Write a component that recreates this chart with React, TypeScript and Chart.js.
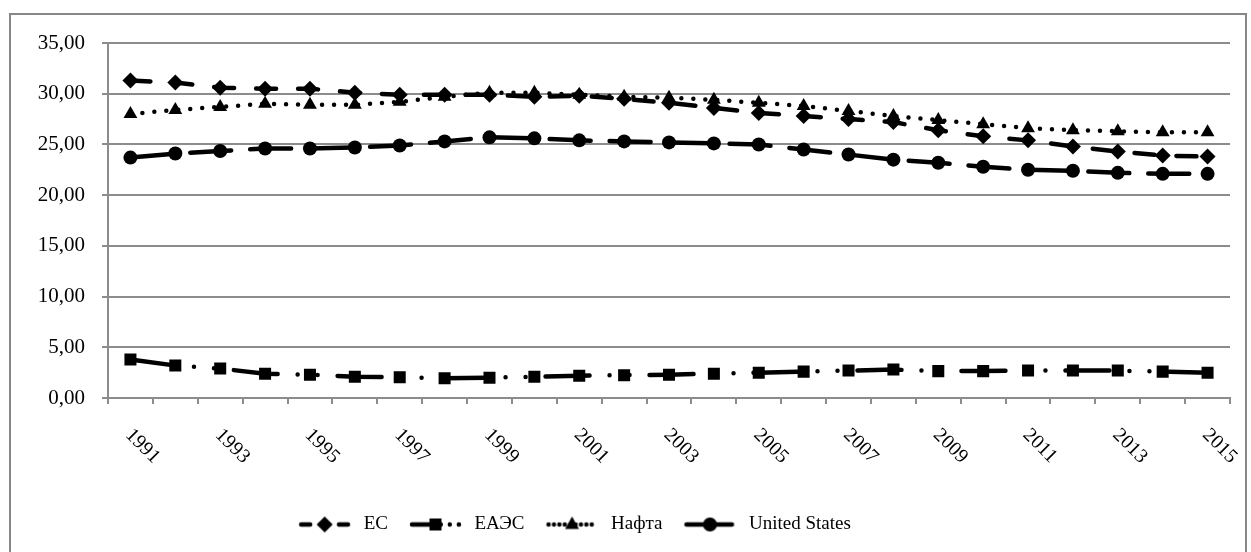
import React, { useEffect, useRef } from "react";
import { Chart, registerables } from "chart.js";

Chart.register(...registerables);

const FONT = '"Liberation Serif", "Times New Roman", serif';

const years = [
  "1991", "1992", "1993", "1994", "1995", "1996", "1997", "1998", "1999", "2000",
  "2001", "2002", "2003", "2004", "2005", "2006", "2007", "2008", "2009", "2010",
  "2011", "2012", "2013", "2014", "2015",
];

const seriesNames = ["ЕС", "ЕАЭС", "Нафта", "United States"];

const ecValues = [
  31.3, 31.1, 30.6, 30.5, 30.5, 30.1, 29.9, 29.9, 29.9, 29.7,
  29.8, 29.5, 29.1, 28.6, 28.1, 27.8, 27.5, 27.2, 26.4, 25.8,
  25.4, 24.8, 24.3, 23.9, 23.8,
];

const eaesValues = [
  3.8, 3.2, 2.9, 2.4, 2.3, 2.1, 2.05, 1.95, 2.0, 2.1,
  2.2, 2.25, 2.3, 2.4, 2.5, 2.6, 2.7, 2.8, 2.65, 2.65,
  2.7, 2.7, 2.7, 2.6, 2.5,
];

const naftaValues = [
  28.0, 28.4, 28.7, 29.0, 28.9, 28.9, 29.2, 29.7, 30.1, 30.1,
  29.9, 29.7, 29.6, 29.4, 29.1, 28.8, 28.3, 27.8, 27.4, 27.0,
  26.6, 26.4, 26.3, 26.2, 26.2,
];

const usValues = [
  23.7, 24.1, 24.35, 24.6, 24.6, 24.7, 24.9, 25.3, 25.7, 25.6,
  25.4, 25.3, 25.2, 25.1, 25.0, 24.5, 24.0, 23.5, 23.2, 22.8,
  22.5, 22.4, 22.2, 22.1, 22.1,
];

const yMin = 0;
const yMax = 35;
const yStep = 5;

const LINE_W = 4.5;
const dashes: number[][] = [
  [20, 22],
  [44, 20, 0, 20, 0, 20],
  [0, 12],
  [41, 19],
];
const pointStyles = ["rectRot", "rect", "triangle", "circle"];
const pointRadii = [8, 8.5, 8, 7];

function drawMarker(ctx: CanvasRenderingContext2D, style: string, x: number, y: number, r: number) {
  ctx.beginPath();
  if (style === "rectRot") {
    ctx.moveTo(x, y - r);
    ctx.lineTo(x + r, y);
    ctx.lineTo(x, y + r);
    ctx.lineTo(x - r, y);
    ctx.closePath();
  } else if (style === "rect") {
    const s = r * Math.SQRT1_2;
    ctx.rect(x - s, y - s, 2 * s, 2 * s);
  } else if (style === "triangle") {
    ctx.moveTo(x, y - r);
    ctx.lineTo(x + r * 0.866, y + r * 0.5 + 0.5);
    ctx.lineTo(x - r * 0.866, y + r * 0.5 + 0.5);
    ctx.closePath();
  } else {
    ctx.arc(x, y, r, 0, Math.PI * 2);
  }
  ctx.fill();
}

function makeLegendIcon(i: number): HTMLCanvasElement {
  const c = document.createElement("canvas");
  c.width = 59;
  c.height = 22;
  const ctx = c.getContext("2d")!;
  ctx.strokeStyle = "#000";
  ctx.fillStyle = "#000";
  ctx.lineWidth = LINE_W;
  ctx.lineCap = "round";
  ctx.setLineDash(dashes[i].map((d) => d * 0.45));
  ctx.beginPath();
  ctx.moveTo(6, 11);
  ctx.lineTo(53, 11);
  ctx.stroke();
  ctx.setLineDash([]);
  drawMarker(ctx, pointStyles[i], 29.5, 11, pointRadii[i]);
  return c;
}

const rotatedXLabels = {
  id: "rotatedXLabels",
  afterDraw(chart: any) {
    const scale = chart.scales.x;
    const ctx = chart.ctx as CanvasRenderingContext2D;
    ctx.save();
    ctx.font = `20px ${FONT}`;
    ctx.fillStyle = "#000";
    ctx.textAlign = "left";
    ctx.textBaseline = "middle";
    years.forEach((lab, i) => {
      if (i % 2 !== 0) return;
      const x = scale.getPixelForValue(i);
      ctx.save();
      ctx.translate(x - 2, scale.top + 34);
      ctx.rotate(Math.PI / 4);
      ctx.fillText(lab, 0, 0);
      ctx.restore();
    });
    ctx.restore();
  },
};

const legendShift = {
  id: "legendShift",
  afterLayout(chart: any) {
    const lg = chart.legend;
    if (lg) {
      lg.left -= 42;
      lg.right -= 42;
    }
  },
};

export default function App() {
  const ref = useRef<HTMLCanvasElement | null>(null);

  useEffect(() => {
    if (!ref.current) return;
    const icons = [0, 1, 2, 3].map(makeLegendIcon);
    const values = [ecValues, eaesValues, naftaValues, usValues];
    const chart = new Chart(ref.current, {
      type: "line",
      data: {
        labels: years,
        datasets: seriesNames.map((name, i) => ({
          label: name,
          data: values[i],
          borderColor: "#000",
          backgroundColor: "#000",
          borderWidth: LINE_W,
          borderDash: dashes[i],
          borderCapStyle: "round" as const,
          borderJoinStyle: "round" as const,
          pointStyle: pointStyles[i] as any,
          pointRadius: pointRadii[i],
          pointBackgroundColor: "#000",
          pointBorderColor: "#000",
          pointBorderWidth: 0,
          tension: 0,
          fill: false,
        })),
      },
      options: {
        animation: false,
        responsive: false,
        devicePixelRatio: 1,
        layout: { padding: { left: 0, right: 21, top: 43, bottom: 8 } },
        plugins: {
          tooltip: { enabled: false },
          legend: {
            position: "bottom",
            labels: {
              usePointStyle: true,
              pointStyleWidth: 59,
              padding: 18,
              color: "#000",
              font: { family: FONT, size: 19 },
              generateLabels: (ch: any) =>
                Chart.defaults.plugins.legend.labels
                  .generateLabels(ch)
                  .map((l: any, i: number) => ({ ...l, pointStyle: icons[i] })),
            },
          },
        },
        scales: {
          x: {
            type: "category",
            offset: true,
            grid: {
              display: true,
              drawOnChartArea: false,
              drawTicks: true,
              tickLength: 6,
              offset: true,
              color: "#8c8c8c",
              lineWidth: 2,
            },
            border: { display: true, color: "#8c8c8c", width: 2 },
            ticks: { display: false },
            afterFit: (s: any) => {
              s.height = 99;
            },
          },
          y: {
            min: yMin,
            max: yMax,
            ticks: {
              stepSize: yStep,
              color: "#000",
              padding: 17,
              font: { family: FONT, size: 21 },
              callback: (v: any) => Number(v).toFixed(2).replace(".", ","),
            },
            grid: { color: "#8c8c8c", lineWidth: 2, tickLength: 6, drawTicks: true },
            border: { display: true, color: "#8c8c8c", width: 2 },
            afterFit: (s: any) => {
              s.width = 108;
            },
          },
        },
      },
      plugins: [rotatedXLabels, legendShift],
    });
    return () => chart.destroy();
  }, []);

  return (
    <div style={{ position: "fixed", left: 0, top: 0, width: 1251, height: 552, overflow: "hidden", background: "#fff" }}>
      <canvas ref={ref} width={1251} height={552} style={{ position: "absolute", left: 0, top: 0 }} />
      <div
        style={{
          position: "absolute",
          left: 9,
          top: 13,
          width: 1238,
          height: 560,
          boxSizing: "border-box",
          border: "2px solid #878787",
          pointerEvents: "none",
        }}
      />
    </div>
  );
}
